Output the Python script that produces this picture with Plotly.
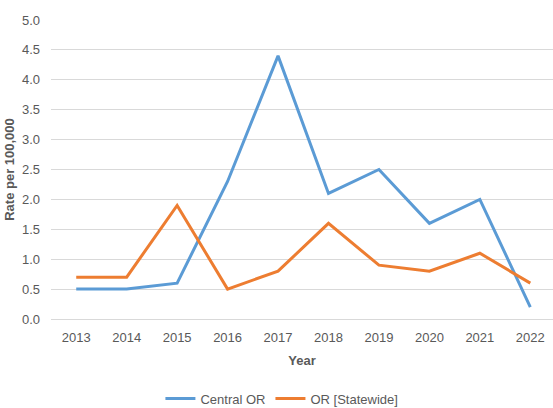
import plotly.graph_objects as go

years = ["2013", "2014", "2015", "2016", "2017", "2018", "2019", "2020", "2021", "2022"]
central_or = [0.5, 0.5, 0.6, 2.3, 4.4, 2.1, 2.5, 1.6, 2.0, 0.2]
or_statewide = [0.7, 0.7, 1.9, 0.5, 0.8, 1.6, 0.9, 0.8, 1.1, 0.6]
y_ticks = [0.0, 0.5, 1.0, 1.5, 2.0, 2.5, 3.0, 3.5, 4.0, 4.5, 5.0]
y_tick_labels = [f"{v:.1f}" for v in y_ticks]

FONT = "Liberation Sans Narrow, Arial Narrow, Arial, sans-serif"
GRAY = "#595959"

fig = go.Figure()
fig.add_trace(go.Scatter(x=years, y=central_or, mode="lines", name="Central OR",
                         line=dict(color="#5b9bd5", width=3)))
fig.add_trace(go.Scatter(x=years, y=or_statewide, mode="lines", name="OR [Statewide]",
                         line=dict(color="#ed7d31", width=3)))

fig.update_layout(
    width=553, height=408,
    margin=dict(l=51, r=0, t=20, b=89, autoexpand=False),
    paper_bgcolor="white", plot_bgcolor="white",
    font=dict(family=FONT, size=13, color=GRAY),
    showlegend=True,
    legend=dict(orientation="h", x=0.46, xanchor="center",
                yref="container", y=0.06, yanchor="top",
                font=dict(family=FONT, size=13, color=GRAY), itemwidth=30),
    xaxis=dict(
        type="category", range=[-0.5, 9.45],
        showgrid=False, showline=True, linecolor="#d9d9d9", linewidth=1,
        ticks="", tickfont=dict(family=FONT, size=13, color=GRAY),
        ticklabelstandoff=6,
        title=dict(text="<b>Year</b>", font=dict(family=FONT, size=13, color=GRAY), standoff=12),
    ),
    yaxis=dict(
        range=[0, 5], tickvals=y_ticks, ticktext=y_tick_labels,
        showgrid=True, gridcolor="#d9d9d9", gridwidth=1,
        zeroline=False, showline=False, ticks="",
        tickfont=dict(family=FONT, size=13, color=GRAY),
        ticklabelstandoff=10,
        title=dict(text="<b>Rate per 100,000</b>", font=dict(family=FONT, size=13, color=GRAY), standoff=4),
    ),
)

fig.write_html("out.html")
